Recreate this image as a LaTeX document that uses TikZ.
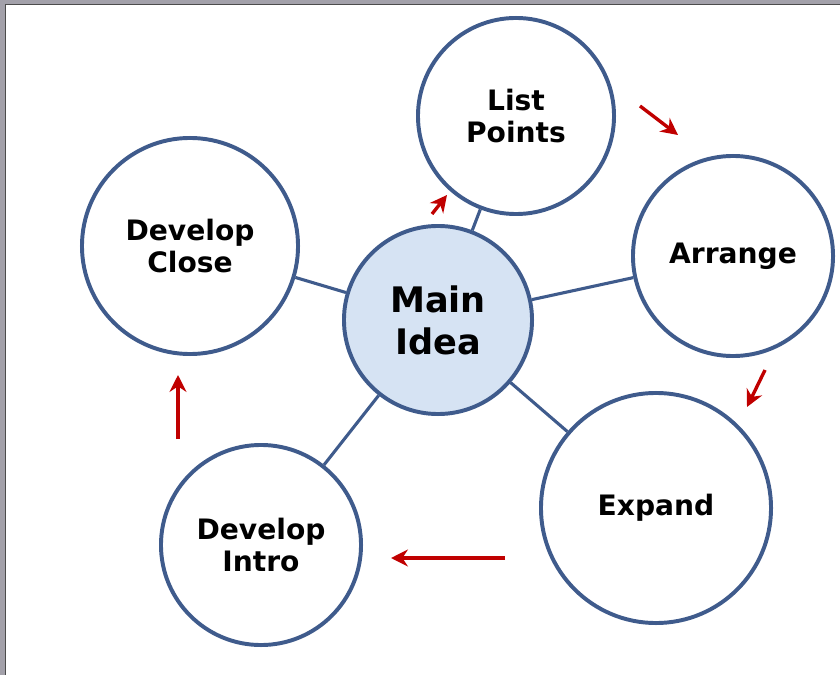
\documentclass[tikz,border=0pt]{standalone}
\usepackage{fontspec}
\setmainfont{DejaVu Sans}
\usepackage{xcolor}
\usetikzlibrary{arrows.meta}
\definecolor{ringblue}{HTML}{3F5B8C}
\definecolor{ideafill}{HTML}{D6E3F3}
\definecolor{flowred}{HTML}{C00000}
\definecolor{framegray}{HTML}{A3A1AA}
\tikzset{
	bubble/.style={
			circle, draw=ringblue, line width=2.8pt, fill=white, inner sep=0pt,
			align=center, font=\bfseries\fontsize{20}{23}\selectfont,
			minimum size=#1*0.05cm
		},
	spoke/.style={draw=ringblue, line width=2.2pt},
	flow/.style={draw=flowred, line width=2.4pt, -{Stealth[length=12pt,width=12pt]}}
}

\begin{document}
\begin{tikzpicture}[x=0.025cm, y=-0.025cm]
	\useasboundingbox (0,0) rectangle (840,675);
	% frame
	\fill[framegray] (0,0) rectangle (840,4) (0,0) rectangle (5,675);
	\draw[black!70, line width=1pt] (840,4.5) -- (5.5,4.5) -- (5.5,675);

	\node[bubble=94, fill=ideafill, font=\bfseries\fontsize{25}{30}\selectfont] (idea) at (438,320) {Main\\Idea};
	\node[bubble=98] (list) at (516,116) {List\\Points};
	\node[bubble=100] (arrange) at (733,256) {Arrange};
	\node[bubble=115] (expand) at (656,508) {Expand};
	\node[bubble=100] (intro) at (261,545) {Develop\\Intro};
	\node[bubble=108] (close) at (190,246) {Develop\\Close};

	\foreach \n in {list,arrange,expand,intro,close}
		\draw[spoke] (idea) -- (\n);

	% cycle arrows
	\coordinate (f1a) at (432,214); \coordinate (f1b) at (447,195);
	\coordinate (f2a) at (640,106); \coordinate (f2b) at (678,135);
	\coordinate (f3a) at (765,370); \coordinate (f3b) at (747,407);
	\coordinate (f4a) at (505,558); \coordinate (f4b) at (391,558);
	\coordinate (f5a) at (178,439); \coordinate (f5b) at (178,375);
	\foreach \k in {1,...,5}
		\draw[flow] (f\k a) -- (f\k b);
\end{tikzpicture}
\end{document}
